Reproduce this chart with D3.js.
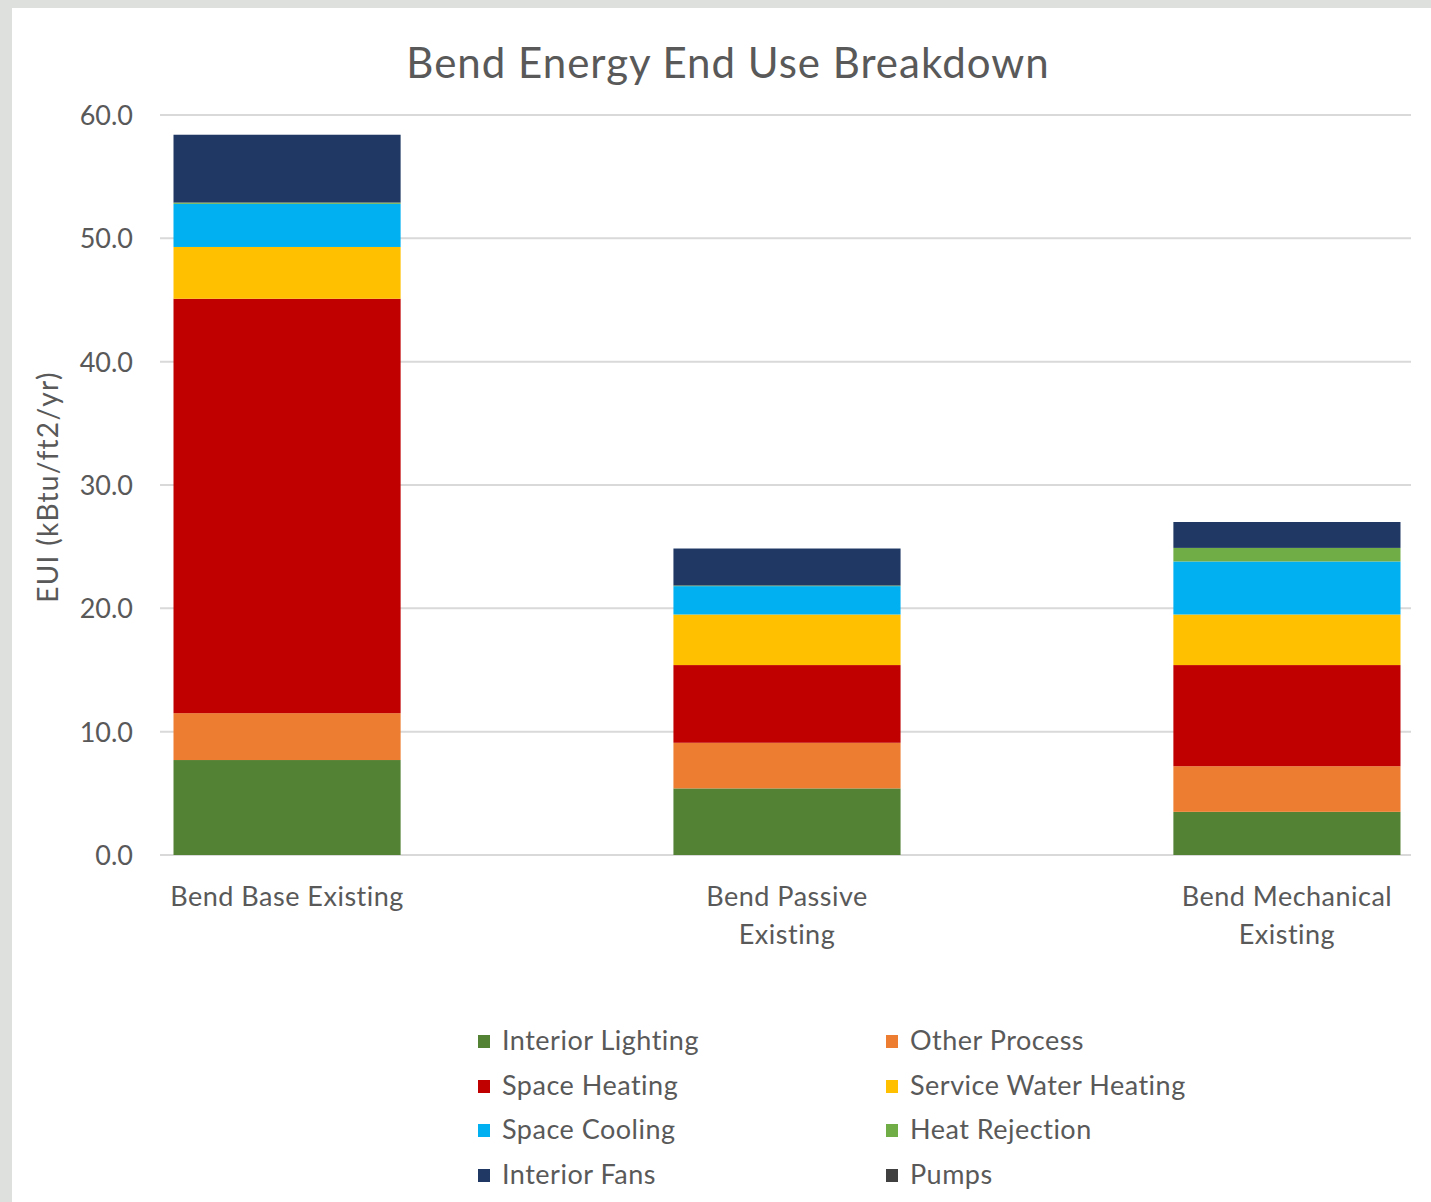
<!DOCTYPE html>
<html>
<head>
<meta charset="utf-8">
<script src="https://cdn.jsdelivr.net/npm/d3@7"></script>
<style>
  html, body { margin: 0; padding: 0; background: #dde0dd; }
  svg { display: block; }
  text { font-family: Lato, "Open Sans", sans-serif; fill: #595959; }
</style>
</head>
<body>
<svg id="chart" width="1431" height="1202"></svg>
<script>
const title = "Bend Energy End Use Breakdown";
const yAxisTitle = "EUI (kBtu/ft2/yr)";
const categories = ["Bend Base Existing", "Bend Passive Existing", "Bend Mechanical Existing"];
const categoryLines = [["Bend Base Existing"], ["Bend Passive", "Existing"], ["Bend Mechanical", "Existing"]];
const seriesNames = ["Interior Lighting", "Other Process", "Space Heating", "Service Water Heating", "Space Cooling", "Heat Rejection", "Interior Fans", "Pumps"];
const seriesColors = ["#548235", "#ED7D31", "#C00000", "#FFC000", "#00B0F0", "#70AD47", "#203864", "#404040"];
const interiorLighting   = [7.7, 5.4, 3.5];
const otherProcess       = [3.8, 3.7, 3.7];
const spaceHeating       = [33.6, 6.3, 8.2];
const serviceWaterHeating= [4.2, 4.1, 4.1];
const spaceCooling       = [3.5, 2.3, 4.3];
const heatRejection      = [0.1, 0.05, 1.1];
const interiorFans       = [5.5, 3.0, 2.1];
const pumps              = [0, 0, 0];
const yTicks = [0, 10, 20, 30, 40, 50, 60];
const legendOrder = ["Interior Lighting", "Other Process", "Space Heating", "Service Water Heating", "Space Cooling", "Heat Rejection", "Interior Fans", "Pumps"];

const seriesValues = [interiorLighting, otherProcess, spaceHeating, serviceWaterHeating, spaceCooling, heatRejection, interiorFans, pumps];
const table = categories.map((c, i) => {
  const row = { category: c };
  seriesNames.forEach((s, j) => row[s] = seriesValues[j][i]);
  return row;
});

const svg = d3.select("#chart");
svg.append("rect").attr("x", 12).attr("y", 8).attr("width", 1431 - 12).attr("height", 1202 - 8).attr("fill", "#ffffff");

const plotLeft = 160, plotRight = 1414, plotTop = 115, plotBottom = 855;
const x = d3.scaleBand().domain(categories).range([plotLeft, plotRight]).paddingInner(0.5457).paddingOuter(0.027);
const y = d3.scaleLinear().domain([0, 60]).range([plotBottom, plotTop]);
const color = d3.scaleOrdinal().domain(seriesNames).range(seriesColors);

// gridlines
svg.append("g").selectAll("line").data(yTicks).join("line")
  .attr("x1", plotLeft).attr("x2", 1411)
  .attr("y1", d => y(d)).attr("y2", d => y(d))
  .attr("stroke", "#d9d9d9").attr("stroke-width", 2);

// y axis labels
const yAxis = d3.axisLeft(y).tickValues(yTicks).tickFormat(d3.format(".1f")).tickSize(0).tickPadding(0);
const yg = svg.append("g").attr("transform", `translate(133,0)`).call(yAxis);
yg.select(".domain").remove();
yg.selectAll("text").style("font-size", "27px").style("font-family", "Lato, sans-serif").attr("fill", "#595959").attr("dy", "0.35em");

// stacked bars
const stack = d3.stack().keys(seriesNames);
const stacked = stack(table);
svg.append("g").selectAll("g").data(stacked).join("g")
  .attr("fill", d => color(d.key))
  .selectAll("rect").data(d => d).join("rect")
  .attr("x", d => x(d.data.category))
  .attr("width", x.bandwidth())
  .attr("y", d => y(d[1]))
  .attr("height", d => Math.max(0, y(d[0]) - y(d[1])));

// category labels
const xg = svg.append("g");
categories.forEach((c, i) => {
  const t = xg.append("text")
    .attr("x", x(c) + x.bandwidth() / 2)
    .attr("y", 906)
    .attr("text-anchor", "middle")
    .style("font-size", "27px").style("letter-spacing", "0.5px");
  categoryLines[i].forEach((ln, k) => {
    t.append("tspan").attr("x", x(c) + x.bandwidth() / 2).attr("dy", k === 0 ? 0 : 38).text(ln);
  });
});

// title
svg.append("text").attr("x", 728).attr("y", 78).attr("text-anchor", "middle")
  .style("font-size", "42px").style("letter-spacing", "1px").attr("fill", "#595959").text(title);

// y axis title
svg.append("text").attr("transform", "translate(58,487) rotate(-90)")
  .attr("text-anchor", "middle").style("font-size", "28px").style("letter-spacing", "1.3px").text(yAxisTitle);

// legend
const legendCols = [478, 886];
const legendRows = [1041, 1086, 1130, 1175];
const lg = svg.append("g");
legendOrder.forEach((name, i) => {
  const col = i % 2, row = Math.floor(i / 2);
  const gx = legendCols[col], gy = legendRows[row];
  lg.append("rect").attr("x", gx).attr("y", gy - 6).attr("width", 12).attr("height", 13).attr("fill", color(name));
  lg.append("text").attr("x", gx + 24).attr("y", gy).attr("dy", "0.35em").style("font-size", "27px").style("letter-spacing", "0.5px").text(name);
});
</script>
</body>
</html>
